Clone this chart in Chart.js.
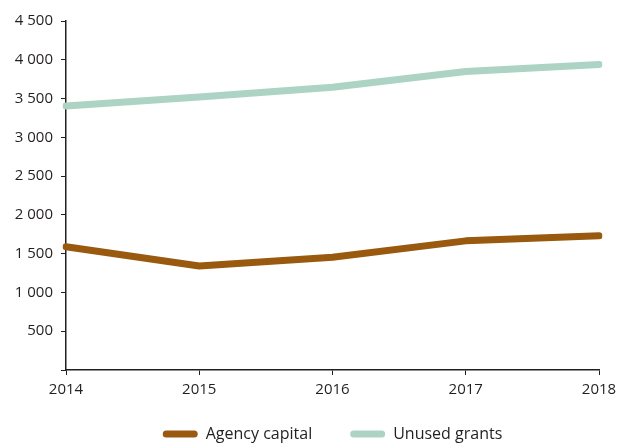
<!DOCTYPE html>
<html>
<head>
<meta charset="utf-8">
<script src="https://cdn.jsdelivr.net/npm/chart.js@4"></script>
<style>
  html, body { margin: 0; padding: 0; background: #fff; }
  #wrap { width: 624px; height: 444px; }
</style>
</head>
<body>
<div id="wrap"><canvas id="chart"></canvas></div>
<script>
var years = ['2014', '2015', '2016', '2017', '2018'];
var agencyCapital = [1590, 1340, 1455, 1665, 1730];
var unusedGrants = [3405, 3520, 3645, 3850, 3940];
var yTicks = [0, 500, 1000, 1500, 2000, 2500, 3000, 3500, 4000, 4500];

var brown = '#995a0f';
var green = '#acd3c4';
var ink = '#231f20';

function formatThousands(v) {
    if (v === 0) return '';
    return String(v).replace(/\B(?=(\d{3})+(?!\d))/g, ' ');
}

// legend items need wide gaps but a short box, so size and place it by hand
var legendFit = {
    id: 'legendFit',
    beforeUpdate: function (chart) {
        var legend = chart.legend;
        if (!legend || legend._patched) return;
        var orig = legend.fit;
        legend.fit = function () {
            orig.call(this);
            this.height = 34;
        };
        legend._patched = true;
    },
    afterLayout: function (chart) {
        var legend = chart.legend;
        if (!legend) return;
        legend.top = 388;
        legend.bottom = 444;
    }
};

new Chart(document.getElementById('chart'), {
    type: 'line',
    data: {
        labels: years,
        datasets: [{
            label: 'Agency capital',
            data: agencyCapital,
            borderColor: brown,
            backgroundColor: brown,
            borderWidth: 7,
            borderCapStyle: 'round',
            borderJoinStyle: 'round',
            pointRadius: 0,
            tension: 0
        }, {
            label: 'Unused grants',
            data: unusedGrants,
            borderColor: green,
            backgroundColor: green,
            borderWidth: 7,
            borderCapStyle: 'round',
            borderJoinStyle: 'round',
            pointRadius: 0,
            tension: 0
        }]
    },
    options: {
        responsive: true,
        maintainAspectRatio: false,
        animation: false,
        layout: { padding: { top: 21, right: 25, left: 0, bottom: 0 } },
        scales: {
            x: {
                offset: false,
                grid: { drawOnChartArea: false, color: ink, tickLength: 5 },
                border: { color: ink, width: 1.5 },
                ticks: { color: ink, font: { family: 'Open Sans', size: 15 }, padding: 6, maxRotation: 0 },
                afterFit: function (scale) { scale.height = 40; }
            },
            y: {
                min: 0,
                max: 4500,
                afterBuildTicks: function (scale) {
                    scale.ticks = yTicks.map(function (v) { return { value: v }; });
                },
                grid: { drawOnChartArea: false, color: ink, tickLength: 5 },
                border: { color: ink, width: 1.5 },
                ticks: {
                    color: ink,
                    font: { family: 'Open Sans', size: 15 },
                    padding: 8,
                    callback: function (v) { return formatThousands(v); }
                },
                afterFit: function (scale) { scale.width = 66; }
            }
        },
        plugins: {
            legend: {
                position: 'bottom',
                fullSize: false,
                labels: {
                    color: ink,
                    font: { family: 'Open Sans', size: 16 },
                    boxWidth: 35,
                    boxHeight: 7,
                    useBorderRadius: true,
                    borderRadius: 3.5,
                    padding: 38,
                    generateLabels: function (chart) {
                        var items = Chart.defaults.plugins.legend.labels.generateLabels(chart);
                        items.forEach(function (it) { it.lineWidth = 0; });
                        return items;
                    }
                }
            },
            tooltip: { enabled: false }
        }
    },
    plugins: [legendFit]
});
</script>
</body>
</html>
